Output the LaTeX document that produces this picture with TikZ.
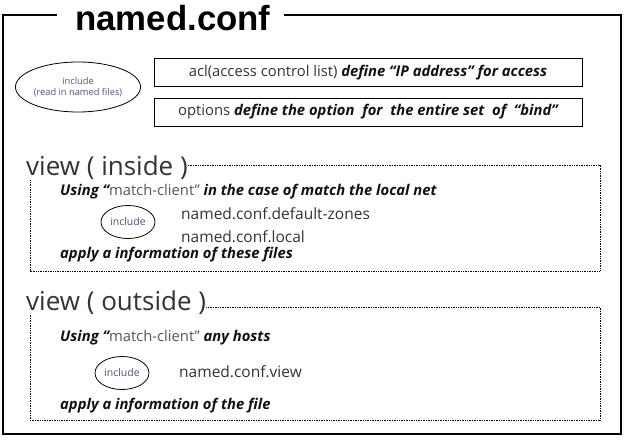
\documentclass[tikz,border=0pt]{standalone}
\usepackage{fontspec}
\setmainfont{Open Sans}
\newfontfamily\titlefont{Liberation Sans}
\usetikzlibrary{shapes.geometric}
\definecolor{txt}{HTML}{111111}
\definecolor{reg}{HTML}{333333}
\definecolor{grey}{HTML}{555555}
\definecolor{purp}{HTML}{604A7B}
\newcommand{\bi}[1]{{\bfseries\itshape\color{txt}#1}}
\begin{document}
\begin{tikzpicture}[x=1pt,y=-1pt,
  frame/.style={line width=2.6pt,line join=miter},
  dotbox/.style={densely dotted,line width=0.7pt},
  defbox/.style={draw,line width=1pt,minimum width=428pt,minimum height=28pt,inner sep=0pt,font=\fontsize{14.8}{17}\selectfont,text=reg},
  incl/.style={draw,ellipse,line width=0.8pt,inner sep=0pt,text=purp,align=center},
  viewlabel/.style={anchor=west,inner sep=0pt,font=\fontsize{26}{30}\selectfont,text=reg},
  line/.style={anchor=west,inner sep=0pt,font=\fontsize{14.8}{18}\selectfont,text=txt},
  fname/.style={anchor=west,inner sep=0pt,font=\fontsize{15.5}{18}\selectfont,text=reg}]
\useasboundingbox (0,0) rectangle (628,444);
% title and frame
\node[anchor=west,inner sep=0pt,font=\titlefont\bfseries\fontsize{34.8}{37}\selectfont] (title) at (75,18) {named.conf};
\coordinate (tl) at (3,15);
\coordinate (tr) at (621,15);
\coordinate (br) at (621,434);
\coordinate (bl) at (3,434);
\draw[frame] ([xshift=-18pt]title.west|-tl) -- (tl) -- (bl) -- (br) -- (tr) -- ([xshift=13pt]title.east|-tr);
% top part
\node[incl,minimum width=124pt,minimum height=50pt,font=\fontsize{9.3}{11}\selectfont] (inc0) at (78,87) {include\\(read in named files)};
\node[defbox] (acl) at (368,72.5) {acl(access control list) \bi{define “IP address” for access}};
\node[defbox] (opt) at (368,112) {options \bi{define the option\ \ for\ \ the entire set\ \ of\ \ “bind”}};
% view inside
\node[viewlabel] (vin) at (26,168) {view ( inside )};
\coordinate (vin-tr) at (600,165);
\coordinate (vin-bl) at (30,271);
\draw[dotbox] (vin.east|-vin-tr) -- (vin-tr) -- (vin-tr|-vin-bl) -- (vin-bl) -- (vin-bl|-vin.south);
\node[line] (vin1) at (60,192) {\bi{Using\ “}\textcolor{grey}{\mdseries match-client”} \bi{in the case of match the local net}};
\node[incl,minimum width=54pt,minimum height=33pt,font=\fontsize{10.5}{12}\selectfont] (inc1) at (128,222) {include};
\node[fname] (f1) at (181,214) {named.conf.default-zones};
\node[fname] (f2) at (181,237) {named.conf.local};
\node[line] (vin2) at (60,255) {\bi{apply a information of these files}};
% view outside
\node[viewlabel] (vout) at (26,303) {view ( outside )};
\coordinate (vout-tr) at (600,307);
\coordinate (vout-bl) at (30,420);
\draw[dotbox] (vout.east|-vout-tr) -- (vout-tr) -- (vout-tr|-vout-bl) -- (vout-bl) -- (vout-bl|-vout.south);
\node[line] (vout1) at (60,338) {\bi{Using\ “}\textcolor{grey}{match-client”} \bi{any hosts}};
\node[incl,minimum width=54pt,minimum height=33pt,font=\fontsize{10.5}{12}\selectfont] (inc2) at (122,373) {include};
\node[fname] (f3) at (179,372) {named.conf.view};
\node[line] (vout2) at (60,406) {\bi{apply a information of the file}};
\end{tikzpicture}
\end{document}
